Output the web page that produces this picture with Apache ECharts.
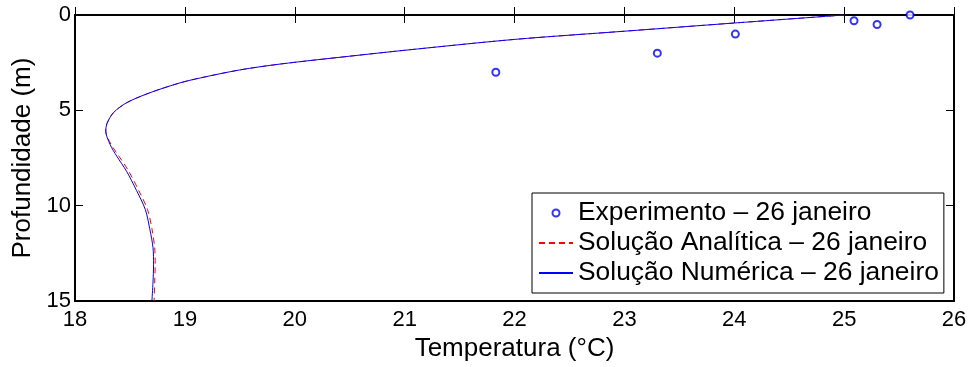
<!DOCTYPE html>
<html>
<head>
<meta charset="utf-8">
<script src="https://cdn.jsdelivr.net/npm/echarts@6/dist/echarts.min.js"></script>
<style>
  html, body { margin: 0; padding: 0; background: #fff; }
  #chart { width: 971px; height: 367px; }
</style>
</head>
<body>
<div id="chart"></div>
<script>
// Temperature profile of the water column, 26 January
const FONT = '"Liberation Sans", Arial, Helvetica, sans-serif';

const xTicks = [18, 19, 20, 21, 22, 23, 24, 25, 26];
const yTicks = [0, 5, 10, 15];

// Measured points: temperature (°C) and depth (m)
const expTemp  = [21.83, 23.30, 24.01, 25.09, 25.30, 25.60];
const expDepth = [3.0,   2.0,   1.0,   0.3,   0.5,   0.0];

// Numerical solution
const numTemp  = [25.0, 24.0, 23.0, 22.0, 21.0, 20.5, 19.87, 19.5, 19.14, 18.955, 18.68, 18.47, 18.35, 18.29, 18.28, 18.32, 18.38, 18.47, 18.56, 18.64, 18.68, 18.71, 18.715, 18.71, 18.70];
const numDepth = [0.0,  0.42, 0.85, 1.28, 1.85, 2.16, 2.57,  2.88, 3.3,   3.56,   4.08,  4.6,   5.12,  5.7,   6.08,  6.8,   7.4,   8.2,   9.2,   10.2,  11.2,  12.2,  13.1,   14.0,  15.0];

// Analytical solution
const anaTemp  = [25.0, 24.0, 23.0, 22.0, 21.0, 20.5, 19.87, 19.5, 19.14, 18.955, 18.68, 18.47, 18.35, 18.29, 18.28, 18.33, 18.40, 18.49, 18.58, 18.66, 18.70, 18.725, 18.73, 18.725, 18.72];
const anaDepth = [0.0,  0.42, 0.85, 1.28, 1.85, 2.16, 2.57,  2.88, 3.3,   3.56,   4.08,  4.6,   5.12,  5.7,   6.08,  6.8,   7.4,   8.2,   9.2,   10.2,  11.2,  12.2,  13.1,   14.0,  15.0];

const NAME_EXP = 'Experimento – 26 janeiro';
const NAME_ANA = 'Solução Analítica – 26 janeiro';
const NAME_NUM = 'Solução Numérica – 26 janeiro';

const zip = (a, b) => a.map((v, i) => [v, b[i]]);

const chart = echarts.init(document.getElementById('chart'), null, { renderer: 'canvas' });

const tickStyle = { show: true, inside: true, length: 8, lineStyle: { color: '#000', width: 1 } };
const labelStyle = { color: '#000', fontSize: 22, fontFamily: FONT };
const titleStyle = { color: '#000', fontSize: 26, fontFamily: FONT };

chart.setOption({
  animation: false,
  backgroundColor: '#fff',
  textStyle: { fontFamily: FONT },
  grid: {
    left: 75, top: 15, right: 17, bottom: 64,
    show: true, borderColor: '#000', borderWidth: 2, backgroundColor: '#fff'
  },
  xAxis: [
    {
      type: 'value', min: 18, max: 26, interval: 1, position: 'bottom',
      axisLine: { show: false }, axisTick: tickStyle, splitLine: { show: false },
      axisLabel: Object.assign({ margin: 8 }, labelStyle),
      name: 'Temperatura (°C)', nameLocation: 'middle', nameGap: 30,
      nameTextStyle: titleStyle
    },
    {
      type: 'value', min: 18, max: 26, interval: 1, position: 'top',
      axisLine: { show: false }, axisTick: tickStyle, splitLine: { show: false },
      axisLabel: { show: false }
    }
  ],
  yAxis: [
    {
      type: 'value', min: 0, max: 15, interval: 5, inverse: true, position: 'left',
      axisLine: { show: false }, axisTick: tickStyle, splitLine: { show: false },
      axisLabel: Object.assign({ margin: 4 }, labelStyle),
      name: 'Profundidade (m)', nameLocation: 'middle', nameGap: 37,
      nameTextStyle: titleStyle
    },
    {
      type: 'value', min: 0, max: 15, interval: 5, inverse: true, position: 'right',
      axisLine: { show: false }, axisTick: tickStyle, splitLine: { show: false },
      axisLabel: { show: false }
    }
  ],
  legend: {
    orient: 'vertical', left: 532, top: 193,
    data: [
      { name: NAME_EXP },
      { name: NAME_ANA, itemStyle: { opacity: 0 } },
      { name: NAME_NUM, itemStyle: { opacity: 0 } }
    ],
    selectedMode: false,
    backgroundColor: '#fff', borderColor: '#000', borderWidth: 1, borderRadius: 0,
    padding: [5, 5, 5, 6],
    itemWidth: 34, itemHeight: 7, itemGap: 0,
    textStyle: { color: '#000', fontSize: 26.4, fontFamily: FONT, lineHeight: 30 }
  },
  series: [
    {
      name: NAME_EXP, type: 'scatter', data: zip(expTemp, expDepth),
      symbol: 'emptyCircle', symbolSize: 7,
      itemStyle: { color: '#0000ff', borderColor: '#0000ff', borderWidth: 1 },
      z: 4
    },
    {
      name: NAME_ANA, type: 'line', data: zip(anaTemp, anaDepth),
      showSymbol: false, symbol: 'none', smooth: 0.3,
      lineStyle: { color: '#ff0000', width: 1, type: [6, 4] },
      itemStyle: { color: '#ff0000' },
      z: 2
    },
    {
      name: NAME_NUM, type: 'line', data: zip(numTemp, numDepth),
      showSymbol: false, symbol: 'none', smooth: 0.3,
      lineStyle: { color: '#0000ff', width: 1 },
      itemStyle: { color: '#0000ff' },
      z: 3
    }
  ]
});
</script>
</body>
</html>
